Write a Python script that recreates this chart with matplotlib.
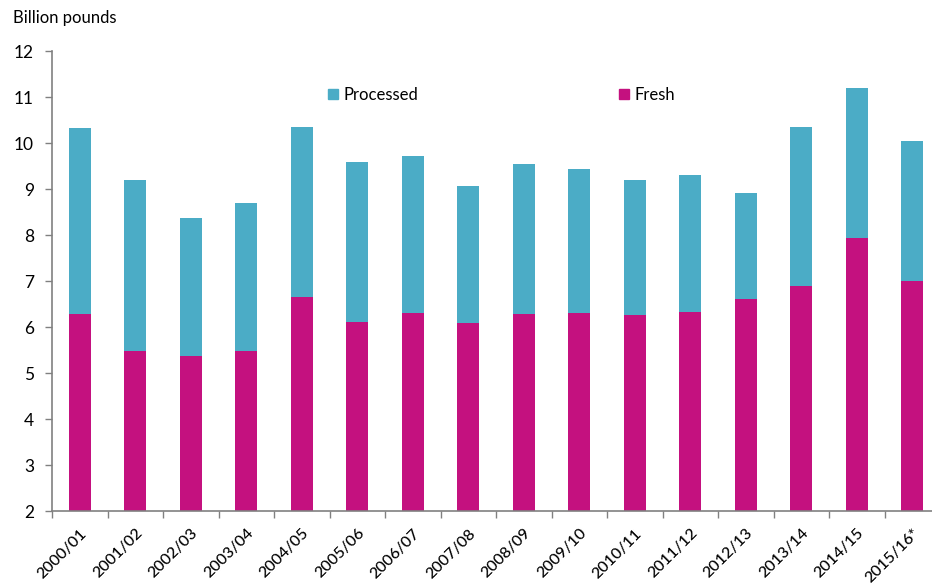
import numpy as np
import matplotlib.pyplot as plt
from matplotlib.patches import Patch

years = ['2000/01', '2001/02', '2002/03', '2003/04', '2004/05', '2005/06',
         '2006/07', '2007/08', '2008/09', '2009/10', '2010/11', '2011/12',
         '2012/13', '2013/14', '2014/15', '2015/16*']
# stacked totals (billion pounds)
fresh = [6.28, 5.48, 5.37, 5.48, 6.65, 6.11, 6.30, 6.09, 6.28, 6.30,
         6.26, 6.33, 6.61, 6.90, 7.94, 7.00]
total = [10.33, 9.20, 8.37, 8.70, 10.35, 9.59, 9.72, 9.07, 9.54, 9.43,
         9.20, 9.30, 8.91, 10.35, 11.20, 10.04]
processed = [t - f for t, f in zip(total, fresh)]

base = 2
c_fresh = '#c4117f'
c_proc = '#4bacc6'

fig = plt.figure(figsize=(9.32, 5.86), dpi=100)
ax = fig.add_axes([52/932, 1 - 511/586, 888/932, 460/586])

x = np.arange(len(years))
w = 0.40
ax.bar(x, np.array(fresh) - base, w, bottom=base, color=c_fresh, zorder=2)
ax.bar(x, processed, w, bottom=fresh, color=c_proc, zorder=2)

ax.set_xlim(-0.5, len(years) - 0.5)
ax.set_ylim(2, 12)
ax.set_yticks(range(2, 13))
ax.tick_params(axis='y', direction='out', length=5, width=1, color='#808080',
               labelsize=12.5, pad=8)
for t in ax.get_yticklabels():
    t.set_family('Lato')

ax.set_xticks(x)
ax.set_xticklabels(years, rotation=45, ha='right', rotation_mode='anchor',
                   fontsize=11.5, family='Lato', fontweight='medium')
ax.set_xticks(np.arange(-0.5, len(years), 1.0), minor=True)
ax.tick_params(axis='x', which='major', length=0, pad=11)
ax.tick_params(axis='x', which='minor', direction='out', length=5, width=1,
               color='#808080')

for s in ['top', 'right']:
    ax.spines[s].set_visible(False)
for s in ['left', 'bottom']:
    ax.spines[s].set_color('#808080')
    ax.spines[s].set_linewidth(1.2)

fig.text(13/932, 1 - 18/586, 'Billion pounds', fontsize=12, family='Lato',
         va='center', ha='left')

handles = [Patch(color=c_proc, label='Processed'), Patch(color=c_fresh, label='Fresh')]
fig.legend(handles=handles, ncol=2, frameon=False, loc='center left',
           bbox_to_anchor=(328/932, 1 - 95/586),
           prop={'family': 'Lato', 'size': 12},
           handlelength=0.6, handleheight=0.6, handletextpad=0.35,
           columnspacing=12.0, borderpad=0, borderaxespad=0)

fig.savefig('out.png', dpi=100)
